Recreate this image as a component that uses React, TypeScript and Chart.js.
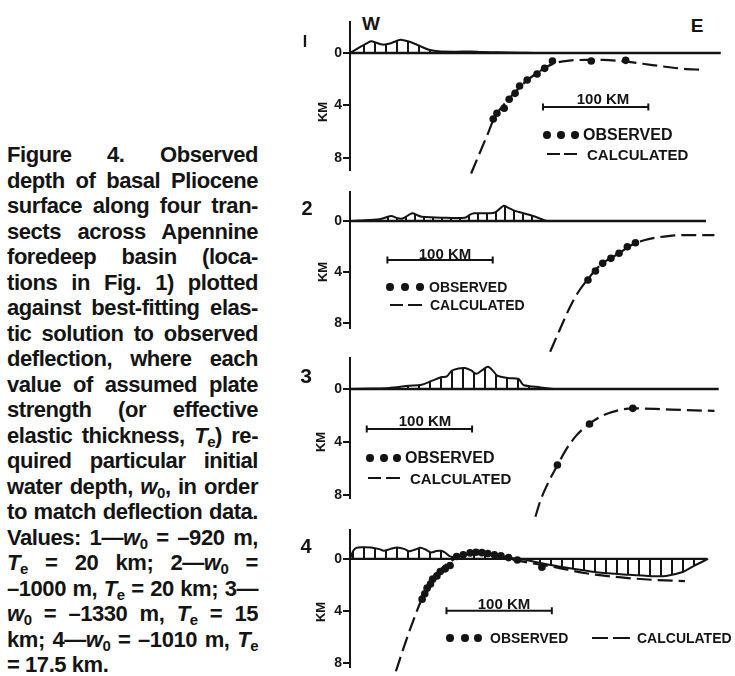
import React, { useEffect, useRef } from "react";
import { Chart, registerables } from "chart.js";

Chart.register(...registerables);

const INK = "#141414";
const FONT = '"Liberation Sans", Arial, Helvetica, sans-serif';

// ---------- DATA (x: km along transect from west axis, depth in km; topography as elevation in km) ----------
const DEPTH_TICKS = [0, 4, 8];

const P1_TOPO_X = [0, 3, 9, 15, 20, 25, 31, 38, 44, 48, 55, 62, 70, 75, 84, 100, 115, 125, 140, 162, 175];
const P1_TOPO_H = [0, 0.15, 0.43, 0.7, 0.89, 0.78, 0.64, 0.72, 0.92, 1.02, 0.9, 0.69, 0.4, 0.25, 0.13, 0.1, 0.12, 0.07, 0.06, 0.02, 0];
const P1_OBS_X = [136, 139.5, 146.4, 151.1, 156.7, 161, 168.2, 177.6, 184.8, 192.2, 229, 261.7];
const P1_OBS_D = [5.04, 4.6, 4.22, 3.53, 3.08, 2.52, 2.06, 1.6, 1.17, 0.61, 0.61, 0.56];
const P1_CALC_X = [115, 123, 131, 137, 146, 156, 168, 180, 192, 208, 224, 240, 262, 287, 312, 336];
const P1_CALC_D = [9.2, 7.66, 6.13, 4.95, 3.95, 3.05, 2.1, 1.4, 0.85, 0.58, 0.53, 0.53, 0.66, 0.92, 1.17, 1.3];

const P2_TOPO_X = [0, 9, 28, 39, 45, 50, 59, 64, 68, 87, 109, 114, 118, 137, 142, 146, 150, 156, 171, 187];
const P2_TOPO_H = [0, 0.03, 0.13, 0.39, 0.22, 0.2, 0.6, 0.45, 0.34, 0.26, 0.26, 0.5, 0.6, 0.65, 0.95, 1.2, 1.05, 0.81, 0.47, 0];
const P2_OBS_X = [225.9, 233, 239.9, 247.7, 255.4, 263.3, 271];
const P2_OBS_D = [4.63, 3.92, 3.32, 2.93, 2.53, 2.02, 1.7];
const P2_CALC_X = [190, 199, 209, 218, 226, 233, 240, 248, 256, 264, 272, 280, 302, 318, 346];
const P2_CALC_D = [10.25, 8.55, 6.72, 5.41, 4.55, 3.85, 3.3, 2.9, 2.5, 2.05, 1.72, 1.49, 1.18, 1.1, 1.1];

const P3_TOPO_X = [0, 20, 37, 56, 68, 78, 87, 92, 96.5, 103, 109, 115, 120, 126, 131, 136, 140, 150, 160, 163, 165, 181, 193];
const P3_TOPO_H = [0, 0.03, 0.08, 0.25, 0.32, 0.63, 0.9, 0.95, 1.38, 1.55, 1.58, 1.4, 1.15, 1.45, 1.68, 1.35, 1.0, 0.83, 0.75, 0.45, 0.28, 0.12, 0];
const P3_OBS_X = [196.9, 227.4, 268.5];
const P3_OBS_D = [5.74, 2.64, 1.46];
const P3_CALC_X = [176, 181, 188, 197, 205, 215, 227, 240, 255, 268, 290, 320, 346];
const P3_CALC_D = [9.64, 8.38, 7.1, 5.74, 4.6, 3.5, 2.64, 2.0, 1.6, 1.46, 1.5, 1.6, 1.65];

const P4_TOPO_X = [0, 3, 6, 12, 20, 28, 32, 38, 45, 52, 56, 62, 67, 72, 77, 82, 86, 90, 95, 100, 105, 115, 125, 135, 145, 155, 165, 180, 202, 234, 265, 287, 300, 315, 327, 340];
const P4_TOPO_H = [0, 0.6, 0.85, 0.9, 0.88, 0.75, 0.62, 0.75, 0.88, 0.75, 0.58, 0.72, 0.85, 0.7, 0.5, 0.6, 0.62, 0.5, 0.2, 0.15, 0.3, 0.45, 0.45, 0.35, 0.2, 0.05, -0.05, -0.3, -0.63, -1.02, -1.22, -1.32, -1.3, -1.02, -0.51, 0];
const P4_OBS_X = [68.5, 71, 73.2, 76.4, 78.5, 82.5, 85.7, 90.4, 95.0, 101.2, 107.5, 114, 119.6, 125.2, 130.8, 137.1, 143.3, 150.5, 158.9, 182.2];
const P4_OBS_D = [3.08, 2.67, 2.24, 1.93, 1.55, 1.3, 0.97, 0.76, 0.5, -0.19, -0.31, -0.46, -0.51, -0.48, -0.42, -0.31, -0.23, -0.1, 0.08, 0.63];
const P4_CALC_X = [43.6, 51.4, 59.2, 67.9, 77.9, 87.2, 96.6, 105, 115, 125, 135, 145, 155, 170, 193, 224, 255, 287, 318];
const P4_CALC_D = [8.6, 6.69, 4.91, 3.13, 1.6, 0.71, 0.13, -0.25, -0.42, -0.42, -0.3, -0.12, 0.05, 0.3, 0.6, 1.1, 1.4, 1.6, 1.7];

const SCALE_BAR_KM = 100;

const CAPTION_LINES = [
  "Figure 4. Observed",
  "depth of basal Pliocene",
  "surface along four tran-",
  "sects across Apennine",
  "foredeep basin (loca-",
  "tions in Fig. 1) plotted",
  "against best-fitting elas-",
  "tic solution to observed",
  "deflection, where each",
  "value of assumed plate",
  "strength (or effective",
  "elastic thickness, {T}) re-",
  "quired particular initial",
  "water depth, {w}, in order",
  "to match deflection data.",
  "Values: 1\u2014{w} = \u2013920 m,",
  "{T} = 20 km; 2\u2014{w} =",
  "\u20131000 m, {T} = 20 km; 3\u2014",
  "{w} = \u20131330 m, {T} = 15",
  "km; 4\u2014{w} = \u20131010 m, {T}",
  "= 17.5 km.",
];

// ---------- LAYOUT ----------
const X_LEFT = 350; // pixel of x = 0 km
const PX_PER_KM_X = 1.07;
const X_MAX = (735 - X_LEFT) / PX_PER_KM_X;

const zip = (xs: number[], ys: number[], f = (v: number) => v) => xs.map((x, i) => ({ x, y: f(ys[i]) }));

const PANELS = [
  {
    label: "I", labelPos: [305, 42], labelSize: 16,
    top: 22, bottom: 170, zero: 53, ppk: 13.1, canvasTop: 8, canvasBottom: 205, axisEnd: 352, hatch: 11,
    topoX: P1_TOPO_X, topoH: P1_TOPO_H, obsX: P1_OBS_X, obsD: P1_OBS_D, calcX: P1_CALC_X, calcD: P1_CALC_D,
    bar: [183.2, 4.12], barText: [603, 98], km: [322, 112],
    dots: [[547, 561, 575], 135], obsText: [583, 135, 16], dash: [547, 577, 154], calcText: [587, 154, 15],
  },
  {
    label: "2", labelPos: [307, 208], labelSize: 20,
    top: 192, bottom: 328, zero: 221, ppk: 12.75, canvasTop: 178, canvasBottom: 365, axisEnd: 338, hatch: 9,
    topoX: P2_TOPO_X, topoH: P2_TOPO_H, obsX: P2_OBS_X, obsD: P2_OBS_D, calcX: P2_CALC_X, calcD: P2_CALC_D,
    bar: [35.5, 3.06], barText: [445, 253], km: [322, 272],
    dots: [[390, 405, 420], 287], obsText: [429, 287, 14], dash: [390, 422, 305], calcText: [430, 305, 14],
  },
  {
    label: "3", labelPos: [306, 375], labelSize: 21,
    top: 358, bottom: 498, zero: 389, ppk: 13.25, canvasTop: 344, canvasBottom: 530, axisEnd: 350, hatch: 11,
    topoX: P3_TOPO_X, topoH: P3_TOPO_H, obsX: P3_OBS_X, obsD: P3_OBS_D, calcX: P3_CALC_X, calcD: P3_CALC_D,
    bar: [15.9, 3.02], barText: [425, 420], km: [320, 442],
    dots: [[370, 384, 397], 458], obsText: [405, 458, 16], dash: [368, 400, 478], calcText: [410, 478, 15],
  },
  {
    label: "4", labelPos: [306, 546], labelSize: 20,
    top: 530, bottom: 667, zero: 559, ppk: 13.1, canvasTop: 516, canvasBottom: 676, axisEnd: 339, hatch: 11,
    topoX: P4_TOPO_X, topoH: P4_TOPO_H, obsX: P4_OBS_X, obsD: P4_OBS_D, calcX: P4_CALC_X, calcD: P4_CALC_D,
    bar: [91.6, 3.97], barText: [504, 603], km: [320, 612],
    dots: [[450, 465, 478], 638], obsText: [490, 638, 14], dash: [592, 630, 638], calcText: [637, 638, 14],
  },
];

function PanelChart({ p }: { p: any }) {
  const ref = useRef<HTMLCanvasElement | null>(null);
  const h = p.canvasBottom - p.canvasTop;
  useEffect(() => {
    const canvas = ref.current!;
    const ctx = canvas.getContext("2d")!;
    const pc = document.createElement("canvas");
    pc.width = p.hatch;
    pc.height = 4;
    const pg = pc.getContext("2d")!;
    pg.fillStyle = INK;
    pg.fillRect(0, 0, 2, 4);
    const pattern = ctx.createPattern(pc, "repeat");
    const yMin = -(p.zero - p.top) / p.ppk;
    const yMax = (p.bottom - p.zero) / p.ppk;
    const chart = new Chart(canvas, {
      type: "line",
      data: {
        datasets: [
          {
            label: "zero",
            data: [{ x: 0, y: 0 }, { x: p.axisEnd, y: 0 }],
            borderColor: INK, borderWidth: 2.4, pointRadius: 0, fill: false, order: 4,
          },
          {
            label: "topography",
            data: zip(p.topoX, p.topoH, (v) => -v),
            borderColor: INK, borderWidth: 2, pointRadius: 0, fill: "origin",
            backgroundColor: pattern as any, tension: 0.3, order: 3,
          },
          {
            label: "calculated",
            data: zip(p.calcX, p.calcD),
            borderColor: INK, borderWidth: 2.2, borderDash: [15, 6], pointRadius: 0, fill: false,
            cubicInterpolationMode: "monotone", clip: false as any, order: 2,
          },
          {
            label: "observed",
            data: zip(p.obsX, p.obsD),
            showLine: false, pointRadius: 3.8, pointBackgroundColor: INK, pointBorderWidth: 0,
            borderColor: INK, order: 1,
          },
          {
            label: "scale",
            data: [{ x: p.bar[0], y: p.bar[1] }, { x: p.bar[0] + SCALE_BAR_KM, y: p.bar[1] }],
            borderColor: INK, borderWidth: 2, pointStyle: "line", rotation: 90, pointRadius: 3.5,
            pointBorderWidth: 2, pointBorderColor: INK, fill: false, order: 0,
          },
        ],
      } as any,
      options: {
        responsive: false,
        animation: false,
        events: [],
        layout: { padding: { left: X_LEFT - 30, right: 0, top: p.top - p.canvasTop, bottom: p.canvasBottom - p.bottom } },
        plugins: { legend: { display: false }, tooltip: { enabled: false } },
        scales: {
          x: { type: "linear", min: 0, max: X_MAX, display: false },
          y: {
            type: "linear", reverse: true, min: yMin, max: yMax,
            afterFit: (s: any) => { s.width = 30; },
            afterBuildTicks: (s: any) => { s.ticks = DEPTH_TICKS.map((v) => ({ value: v })); },
            grid: { display: true, drawOnChartArea: false, drawTicks: true, tickLength: 7, color: INK, lineWidth: 2 },
            border: { display: true, color: INK, width: 2 },
            ticks: { color: INK, font: { family: FONT, size: 14, weight: "bold" }, padding: 1 },
          },
        },
      } as any,
    });
    return () => chart.destroy();
  }, []);
  return (
    <canvas
      ref={ref}
      width={735}
      height={h}
      style={{ position: "absolute", left: 0, top: p.canvasTop, width: 735, height: h }}
    />
  );
}

const abs = (x: number, y: number, extra: any = {}): any => ({
  position: "absolute", left: x, top: y, whiteSpace: "nowrap", lineHeight: 1, fontWeight: "bold", color: INK, fontFamily: FONT, ...extra,
});

function PanelLabels({ p }: { p: any }) {
  const [dx, dy] = p.dots;
  return (
    <>
      <span style={abs(p.labelPos[0], p.labelPos[1], { fontSize: p.labelSize, transform: "translate(-50%,-50%)" })}>{p.label}</span>
      <span style={abs(p.km[0], p.km[1], { fontSize: 13, transform: "translate(-50%,-50%) rotate(-90deg)" })}>KM</span>
      <span style={abs(p.barText[0], p.barText[1], { fontSize: 15, transform: "translate(-50%,-50%)" })}>100 KM</span>
      {dx.map((x: number, i: number) => (
        <span key={i} style={{ position: "absolute", left: x - 3.7, top: dy - 3.7, width: 7.4, height: 7.4, borderRadius: "50%", background: INK }} />
      ))}
      <span style={abs(p.obsText[0], p.obsText[1], { fontSize: p.obsText[2], transform: "translateY(-50%)" })}>OBSERVED</span>
      <span style={{ position: "absolute", left: p.dash[0], top: p.dash[2] - 1, width: (p.dash[1] - p.dash[0]) * 0.42, height: 2.2, background: INK }} />
      <span style={{ position: "absolute", left: p.dash[0] + (p.dash[1] - p.dash[0]) * 0.56, top: p.dash[2] - 1, width: (p.dash[1] - p.dash[0]) * 0.44, height: 2.2, background: INK }} />
      <span style={abs(p.calcText[0], p.calcText[1], { fontSize: p.calcText[2], transform: "translateY(-50%)" })}>CALCULATED</span>
    </>
  );
}

function CaptionLine({ text, last }: { text: string; last: boolean }) {
  const parts = text.split(/(\{[wT]\})/);
  return (
    <div
      style={{
        height: 25.5, lineHeight: "25.5px", whiteSpace: "nowrap",
        textAlign: last ? "left" : "justify", textAlignLast: last ? "left" : "justify",
      } as any}
    >
      {parts.map((s, i) => {
        if (s === "{w}" || s === "{T}") {
          return (
            <span key={i}>
              <i>{s === "{w}" ? "w" : "T"}</i>
              <span style={{ fontSize: "0.68em", verticalAlign: "-0.28em", lineHeight: 0 }}>{s === "{w}" ? "0" : "e"}</span>
            </span>
          );
        }
        return <span key={i}>{s}</span>;
      })}
    </div>
  );
}

export default function App() {
  return (
    <div style={{ position: "absolute", left: 0, top: 0, width: 735, height: 676, background: "#fff", overflow: "hidden" }}>
      <div
        style={{
          position: "absolute", left: 7, top: 142, width: 251, fontFamily: FONT, fontWeight: "bold",
          fontSize: 22, letterSpacing: "-0.45px", color: INK,
        }}
      >
        {CAPTION_LINES.map((t, i) => (
          <CaptionLine key={i} text={t} last={i === CAPTION_LINES.length - 1} />
        ))}
      </div>
      <span style={abs(371, 23, { fontSize: 19, transform: "translate(-50%,-50%)" })}>W</span>
      <span style={abs(697, 25, { fontSize: 19, transform: "translate(-50%,-50%)" })}>E</span>
      {PANELS.map((p, i) => (
        <PanelChart key={"c" + i} p={p} />
      ))}
      {PANELS.map((p, i) => (
        <PanelLabels key={"l" + i} p={p} />
      ))}
    </div>
  );
}
